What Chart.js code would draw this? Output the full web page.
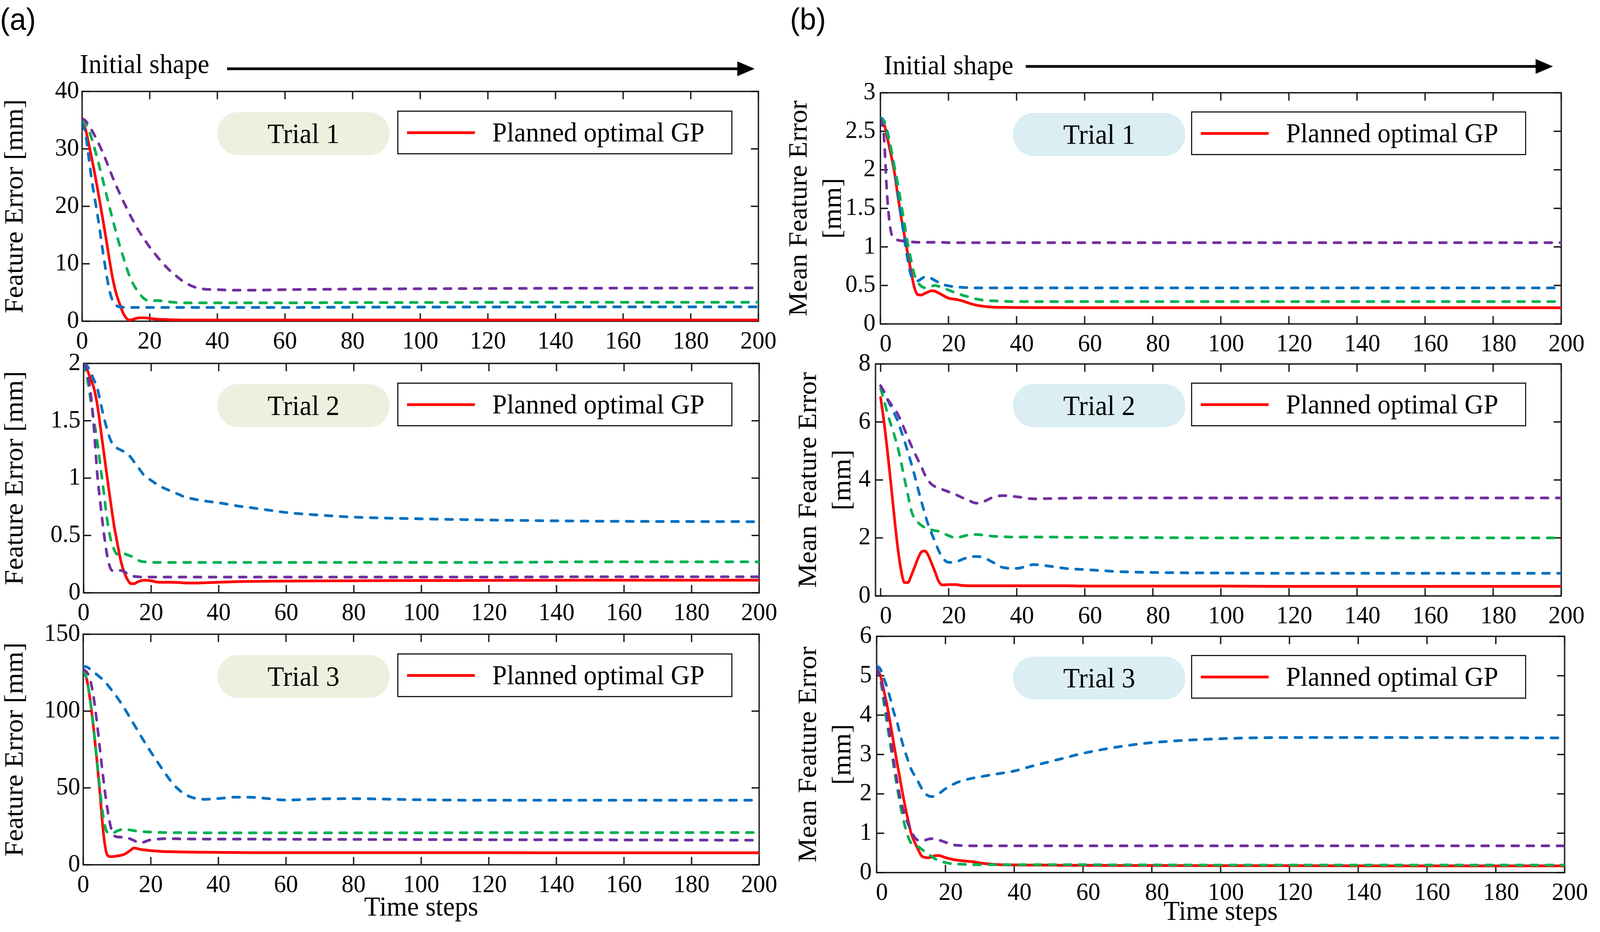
<!DOCTYPE html>
<html>
<head>
<meta charset="utf-8">
<title>Feature error per time step</title>
<script src="https://cdn.jsdelivr.net/npm/chart.js@4.4.0/dist/chart.umd.min.js"></script>
<style>
  html, body { margin: 0; padding: 0; background: #fff; overflow: hidden; }
  #page { position: relative; width: 4249px; height: 2385px; overflow: hidden; transform-origin: 0 0;
          font-family: 'Liberation Serif', 'Times New Roman', serif; color: #000; }
  .panel { position: absolute; }
  .panel canvas { display: block; }
  .pill { position: absolute; height: 110px; border-radius: 55px; display: flex;
          align-items: center; justify-content: center; font-size: 72px; }
  .legend { position: absolute; height: 112px; border: 3px solid #1a1a1a; background: #fff;
            box-sizing: border-box; display: flex; align-items: center; font-size: 70px; }
  .legend .swatch { width: 180px; height: 7px; background: #ff0000; margin-left: 23px; margin-right: 46px; }
  #overlay { position: absolute; left: 0; top: 0; }
</style>
</head>
<body>
<div id="page">
  <svg id="overlay" width="4249" height="2385">
    <text x="0" y="76" font-family="'Liberation Sans', Arial, sans-serif" font-size="78">(a)</text>
    <text x="2098" y="76" font-family="'Liberation Sans', Arial, sans-serif" font-size="78">(b)</text>
    <text x="212" y="187" font-family="'Liberation Serif', serif" font-size="70">Initial shape</text>
    <text x="2347" y="190" font-family="'Liberation Serif', serif" font-size="70">Initial shape</text>
    <line x1="603" y1="176" x2="1965" y2="176" stroke="#000" stroke-width="7"/>
    <polygon points="1958,157 2004,176 1958,195" fill="#000"/>
    <line x1="2724" y1="170" x2="4085" y2="170" stroke="#000" stroke-width="7"/>
    <polygon points="4078,151 4124,170 4078,189" fill="#000"/>
  </svg>
</div>
<script>
// time steps shared by every series
const STEPS = [0, 1, 2, 3, 4, 5, 6, 7, 8, 9, 10, 11, 12, 13, 14, 15, 16, 17, 18, 20,
               22, 24, 26, 28, 30, 33, 36, 40, 45, 50, 55, 60, 70, 80, 100, 120, 150, 200];

const X_TICKS = [0, 20, 40, 60, 80, 100, 120, 140, 160, 180, 200];
const Y_TICKS_A1 = [0, 10, 20, 30, 40];
const Y_TICKS_A2 = [0, 0.5, 1, 1.5, 2];
const Y_TICKS_A3 = [0, 50, 100, 150];
const Y_TICKS_B1 = [0, 0.5, 1, 1.5, 2, 2.5, 3];
const Y_TICKS_B2 = [0, 2, 4, 6, 8];
const Y_TICKS_B3 = [0, 1, 2, 3, 4, 5, 6];

const TRIALS = ['Trial 1', 'Trial 2', 'Trial 3'];
const LEGEND_LABEL = 'Planned optimal GP';

// (a) Feature Error [mm]
const a1Purple = [35.3, 34.9, 34.1, 33.1, 32.0, 30.8, 29.5, 28.1, 26.6, 25.1, 23.7, 22.4, 21.1, 19.9, 18.7, 17.6, 16.5, 15.5, 14.6, 12.9,
                  11.4, 10.0, 8.8, 7.8, 6.9, 6.0, 5.6, 5.5, 5.4, 5.4, 5.45, 5.5, 5.55, 5.6, 5.65, 5.7, 5.75, 5.8];
const a1Green = [35.0, 34.5, 33.2, 31.5, 29.4, 27.2, 24.9, 22.5, 20.1, 17.8, 15.6, 13.4, 11.5, 9.6, 7.9, 6.6, 5.6, 4.8, 4.1, 3.5,
                 3.6, 3.5, 3.35, 3.25, 3.2, 3.2, 3.2, 3.2, 3.2, 3.2, 3.2, 3.2, 3.22, 3.24, 3.26, 3.28, 3.3, 3.3];
const a1Blue = [34.5, 32.6, 28.3, 24.0, 20.5, 16.8, 12.7, 8.9, 5.6, 3.6, 2.8, 2.5, 2.45, 2.4, 2.4, 2.4, 2.4, 2.4, 2.4, 2.4,
                2.4, 2.4, 2.4, 2.4, 2.4, 2.4, 2.4, 2.4, 2.4, 2.4, 2.4, 2.4, 2.42, 2.44, 2.46, 2.48, 2.5, 2.5];
const a1Red = [34.5, 33.4, 30.8, 27.9, 24.9, 21.6, 18.2, 14.7, 11.0, 7.6, 5.0, 3.2, 1.6, 0.6, 0.2, 0.3, 0.5, 0.6, 0.6, 0.5,
               0.35, 0.3, 0.25, 0.22, 0.2, 0.2, 0.2, 0.2, 0.2, 0.2, 0.2, 0.2, 0.2, 0.2, 0.2, 0.2, 0.2, 0.2];

const a2Purple = [2.0, 1.93, 1.76, 1.46, 1.05, 0.77, 0.52, 0.32, 0.21, 0.19, 0.19, 0.195, 0.185, 0.165, 0.15, 0.143, 0.14, 0.138, 0.137, 0.137,
                  0.137, 0.137, 0.137, 0.137, 0.137, 0.137, 0.137, 0.137, 0.137, 0.137, 0.137, 0.137, 0.137, 0.137, 0.137, 0.137, 0.14, 0.14];
const a2Green = [2.0, 1.88, 1.70, 1.51, 1.33, 1.10, 0.87, 0.63, 0.47, 0.38, 0.335, 0.34, 0.34, 0.33, 0.32, 0.30, 0.285, 0.275, 0.27, 0.265,
                 0.265, 0.265, 0.265, 0.265, 0.265, 0.265, 0.265, 0.265, 0.265, 0.265, 0.265, 0.265, 0.265, 0.265, 0.265, 0.265, 0.27, 0.27];
const a2Blue = [2.0, 1.98, 1.93, 1.86, 1.79, 1.66, 1.53, 1.42, 1.33, 1.28, 1.26, 1.245, 1.23, 1.21, 1.18, 1.14, 1.10, 1.06, 1.02, 0.98,
                0.94, 0.91, 0.885, 0.86, 0.835, 0.815, 0.80, 0.785, 0.76, 0.74, 0.72, 0.70, 0.677, 0.66, 0.645, 0.635, 0.625, 0.62];
const a2Red = [2.0, 1.95, 1.87, 1.79, 1.65, 1.44, 1.22, 1.00, 0.79, 0.59, 0.43, 0.28, 0.18, 0.115, 0.08, 0.08, 0.095, 0.105, 0.11, 0.105,
               0.093, 0.092, 0.092, 0.09, 0.086, 0.085, 0.088, 0.092, 0.097, 0.1, 0.101, 0.102, 0.104, 0.105, 0.107, 0.108, 0.11, 0.11];

const a3Purple = [127, 125.5, 121, 110, 93.6, 74, 55, 38.5, 26, 19.5, 18.2, 18, 18, 17.6, 16.8, 15.8, 14.8, 14.1, 14.8, 16.3,
                  16.7, 17, 17, 16.9, 16.8, 16.8, 16.7, 16.7, 16.7, 16.7, 16.6, 16.6, 16.5, 16.5, 16.4, 16.3, 16.2, 16];
const a3Green = [126, 121, 108, 91, 69, 48, 30, 21.5, 20.3, 20.8, 22, 22.8, 23.2, 23, 22.6, 22.2, 21.9, 21.7, 21.5, 21.3,
                 21.1, 21, 20.95, 20.9, 20.9, 20.85, 20.8, 20.8, 20.8, 20.8, 20.8, 20.8, 20.8, 20.8, 20.8, 20.9, 20.9, 21];
const a3Blue = [129, 128.8, 127.3, 125.5, 123.8, 122, 120.2, 117.6, 114.8, 112, 109, 105.8, 102.4, 98.8, 95.1, 91.4, 87.7, 84, 80.4, 73.4,
                66.8, 60.3, 54.2, 49.4, 46, 43.3, 42.6, 43.1, 44, 43.9, 43, 42.1, 42.9, 43, 42.3, 42, 42, 42];
const a3Red = [126, 121, 108, 90, 69, 45, 20, 7, 5.3, 5.4, 5.7, 6.1, 6.7, 7.9, 9.5, 10.9, 10.5, 10.0, 9.7, 9.2,
               8.9, 8.6, 8.5, 8.4, 8.3, 8.2, 8.15, 8.1, 8, 7.9, 7.9, 7.9, 7.9, 7.9, 7.85, 7.85, 7.8, 7.8];

// (b) Mean Feature Error [mm]
const b1Purple = [2.66, 2.45, 1.65, 1.22, 1.11, 1.09, 1.08, 1.075, 1.07, 1.065, 1.062, 1.06, 1.06, 1.06, 1.06, 1.06, 1.06, 1.06, 1.06, 1.055,
                  1.055, 1.055, 1.055, 1.055, 1.055, 1.055, 1.055, 1.055, 1.055, 1.055, 1.055, 1.055, 1.055, 1.055, 1.055, 1.055, 1.055, 1.055];
const b1Green = [2.67, 2.63, 2.47, 2.3, 2.07, 1.84, 1.58, 1.32, 1.05, 0.83, 0.64, 0.54, 0.49, 0.47, 0.475, 0.49, 0.5, 0.49, 0.475, 0.44,
                 0.405, 0.375, 0.35, 0.325, 0.31, 0.3, 0.295, 0.29, 0.29, 0.29, 0.29, 0.29, 0.29, 0.29, 0.29, 0.29, 0.29, 0.29];
const b1Blue = [2.68, 2.64, 2.5, 2.3, 2.06, 1.75, 1.42, 1.12, 0.84, 0.63, 0.57, 0.56, 0.585, 0.61, 0.605, 0.59, 0.565, 0.54, 0.515, 0.495,
                0.48, 0.475, 0.47, 0.468, 0.468, 0.468, 0.468, 0.468, 0.468, 0.468, 0.468, 0.468, 0.468, 0.468, 0.468, 0.468, 0.468, 0.468];
const b1Red = [2.62, 2.6, 2.42, 2.22, 2.0, 1.7, 1.41, 1.16, 0.92, 0.68, 0.47, 0.38, 0.375, 0.395, 0.415, 0.43, 0.425, 0.405, 0.38, 0.335,
               0.32, 0.3, 0.27, 0.245, 0.23, 0.218, 0.215, 0.213, 0.212, 0.212, 0.211, 0.211, 0.21, 0.21, 0.21, 0.21, 0.21, 0.21];

const b2Purple = [7.25, 7.05, 6.8, 6.62, 6.46, 6.28, 6.03, 5.75, 5.46, 5.19, 4.93, 4.69, 4.45, 4.18, 3.98, 3.85, 3.77, 3.72, 3.68, 3.59,
                  3.5, 3.39, 3.29, 3.2, 3.24, 3.4, 3.46, 3.42, 3.35, 3.36, 3.37, 3.38, 3.38, 3.38, 3.38, 3.38, 3.38, 3.38];
const b2Green = [7.15, 6.75, 6.3, 5.92, 5.55, 5.14, 4.62, 4.05, 3.5, 2.95, 2.66, 2.53, 2.43, 2.36, 2.31, 2.28, 2.25, 2.23, 2.18, 2.08,
                 2.0, 2.05, 2.11, 2.12, 2.1, 2.06, 2.04, 2.03, 2.03, 2.03, 2.02, 2.02, 2.01, 2.01, 2.0, 2.0, 2.0, 2.0];
const b2Blue = [7.25, 7.0, 6.77, 6.54, 6.3, 6.04, 5.7, 5.35, 4.97, 4.57, 4.15, 3.69, 3.25, 2.84, 2.45, 2.15, 1.86, 1.58, 1.35, 1.16,
                1.17, 1.26, 1.34, 1.36, 1.33, 1.16, 0.98, 0.95, 1.08, 1.02, 0.94, 0.91, 0.84, 0.81, 0.79, 0.78, 0.78, 0.78];
const b2Red = [6.84, 6.0, 5.0, 3.9, 2.75, 1.7, 0.9, 0.46, 0.46, 0.7, 1.0, 1.3, 1.52, 1.55, 1.4, 1.12, 0.83, 0.52, 0.38, 0.39,
               0.39, 0.36, 0.35, 0.35, 0.35, 0.35, 0.35, 0.35, 0.35, 0.35, 0.35, 0.34, 0.34, 0.34, 0.34, 0.33, 0.33, 0.33];

const b3Purple = [5.2, 4.95, 4.55, 3.98, 3.4, 2.82, 2.3, 1.84, 1.5, 1.27, 1.07, 0.9, 0.82, 0.8, 0.82, 0.85, 0.86, 0.85, 0.83, 0.77,
                  0.71, 0.69, 0.685, 0.68, 0.68, 0.68, 0.68, 0.68, 0.68, 0.68, 0.68, 0.68, 0.68, 0.68, 0.68, 0.68, 0.68, 0.68];
const b3Green = [5.2, 4.97, 4.37, 3.8, 3.24, 2.68, 2.14, 1.66, 1.26, 0.95, 0.75, 0.68, 0.66, 0.6, 0.535, 0.47, 0.41, 0.35, 0.305, 0.255,
                 0.225, 0.215, 0.207, 0.202, 0.2, 0.2, 0.2, 0.2, 0.2, 0.2, 0.2, 0.2, 0.195, 0.195, 0.19, 0.19, 0.19, 0.19];
const b3Blue = [5.25, 5.18, 4.96, 4.71, 4.41, 4.07, 3.8, 3.45, 3.14, 2.88, 2.63, 2.47, 2.32, 2.15, 2.02, 1.95, 1.93, 1.95, 2.0, 2.13,
                2.23, 2.31, 2.36, 2.4, 2.43, 2.48, 2.52, 2.58, 2.7, 2.81, 2.92, 3.03, 3.19, 3.3, 3.4, 3.43, 3.43, 3.42];
const b3Red = [5.15, 5.03, 4.66, 4.26, 3.78, 3.26, 2.76, 2.28, 1.81, 1.39, 1.01, 0.78, 0.6, 0.43, 0.385, 0.375, 0.4, 0.43, 0.435, 0.38,
               0.335, 0.31, 0.29, 0.275, 0.245, 0.215, 0.2, 0.195, 0.19, 0.19, 0.185, 0.185, 0.18, 0.18, 0.175, 0.175, 0.17, 0.17];

// styles: purple, green, blue dashed, red solid (drawn last, on top)
const LINE_COLORS = ['#7030A0', '#00B050', '#0070C0', '#FF0000'];
const LINE_DASHES = [[18, 22], [18, 22], [18, 22], []];
const LINE_WIDTHS = [7, 7, 7, 7];

// plot boxes [left, top, right, bottom] in page pixels
const PANELS = [
  { side: 'a', trial: 0, yTicks: Y_TICKS_A1, series: [a1Purple, a1Green, a1Blue, a1Red], box: [218, 234, 2014, 822] },
  { side: 'a', trial: 1, yTicks: Y_TICKS_A2, series: [a2Purple, a2Green, a2Blue, a2Red], box: [222, 930, 2016, 1517] },
  { side: 'a', trial: 2, yTicks: Y_TICKS_A3, series: [a3Purple, a3Green, a3Blue, a3Red], box: [221, 1623, 2016, 2213], xTitle: true },
  { side: 'b', trial: 0, yTicks: Y_TICKS_B1, series: [b1Purple, b1Green, b1Blue, b1Red], box: [2338, 236, 4146, 829], titlePad: 3 },
  { side: 'b', trial: 1, yTicks: Y_TICKS_B2, series: [b2Purple, b2Green, b2Blue, b2Red], box: [2325, 930, 4146, 1525], xMin: -1.5, titlePad: 28 },
  { side: 'b', trial: 2, yTicks: Y_TICKS_B3, series: [b3Purple, b3Green, b3Blue, b3Red], box: [2328, 1627, 4155, 2233], xTitle: true, titlePad: 28 }
];

const SIDE = {
  a: { cLeft: 0, yTitle: 'Feature Error [mm]', titlePad: 0, titleLH: 1.2, pill: '#EBF1DE', pillX: 577, legendX: 1055,
       xTitlePad: 18, labelOffset: 0, yPad: 8 },
  b: { cLeft: 2075, yTitle: ['Mean Feature Error', '[mm]'], titlePad: 3, titleLH: 1.3, pill: '#DAEEF3', pillX: 2690, legendX: 3163,
       xTitlePad: 7, labelOffset: 14, yPad: 13 }
};

const TICK_LEN = 20;

Chart.defaults.font.family = "'Liberation Serif', 'Times New Roman', serif";
Chart.defaults.color = '#000';

// box frame with inward ticks on all four sides
const frameTicks = {
  id: 'frameTicks',
  beforeDatasetsDraw(chart) {
    const { ctx, chartArea: a, scales: { x, y } } = chart;
    ctx.save();
    ctx.strokeStyle = '#151515';
    ctx.lineWidth = 3.5;
    ctx.beginPath();
    x.ticks.forEach(t => {
      const px = x.getPixelForValue(t.value);
      ctx.moveTo(px, a.bottom); ctx.lineTo(px, a.bottom - TICK_LEN);
      ctx.moveTo(px, a.top); ctx.lineTo(px, a.top + TICK_LEN);
    });
    y.ticks.forEach(t => {
      const py = y.getPixelForValue(t.value);
      ctx.moveTo(a.left, py); ctx.lineTo(a.left + TICK_LEN, py);
      ctx.moveTo(a.right, py); ctx.lineTo(a.right - TICK_LEN, py);
    });
    ctx.stroke();
    ctx.strokeRect(a.left, a.top, a.right - a.left, a.bottom - a.top);
    ctx.restore();
  }
};

const page = document.getElementById('page');

PANELS.forEach(p => {
  const s = SIDE[p.side];
  const [L, T, R, B] = p.box;
  const padTop = 50, padRight = 95;
  const xAxisH = p.xTitle ? 2385 - B : 110;
  const cTop = T - padTop;
  const w = R + padRight - s.cLeft;
  const h = B + xAxisH - cTop;

  const wrap = document.createElement('div');
  wrap.className = 'panel';
  wrap.style.left = s.cLeft + 'px';
  wrap.style.top = cTop + 'px';
  wrap.style.width = w + 'px';
  wrap.style.height = h + 'px';
  const canvas = document.createElement('canvas');
  canvas.width = w;
  canvas.height = h;
  wrap.appendChild(canvas);
  page.appendChild(wrap);

  new Chart(canvas.getContext('2d'), {
    type: 'line',
    data: {
      datasets: p.series.map((vals, i) => ({
        label: i === 3 ? LEGEND_LABEL : '',
        data: STEPS.map((st, j) => ({ x: st, y: vals[j] })),
        borderColor: LINE_COLORS[i],
        borderDash: LINE_DASHES[i],
        borderWidth: LINE_WIDTHS[i],
        borderCapStyle: 'round',
        borderJoinStyle: 'round',
        pointRadius: 0,
        fill: false,
        cubicInterpolationMode: 'monotone'
      }))
    },
    options: {
      responsive: false,
      animation: false,
      devicePixelRatio: 1,
      layout: { padding: { top: padTop, right: padRight, left: 0, bottom: 0 } },
      plugins: { legend: { display: false }, tooltip: { enabled: false } },
      scales: {
        x: {
          type: 'linear',
          min: p.xMin !== undefined ? p.xMin : 0,
          max: 200,
          afterBuildTicks: sc => { sc.ticks = X_TICKS.map(v => ({ value: v })); },
          afterFit: sc => { sc.height = xAxisH; },
          grid: { display: false, drawTicks: false },
          border: { display: false },
          ticks: { autoSkip: false, maxRotation: 0, padding: 15, labelOffset: s.labelOffset,
                   font: { size: 64 }, color: '#000', callback: v => String(v) },
          title: {
            display: !!p.xTitle,
            text: 'Time steps',
            color: '#000',
            font: { size: 70 },
            padding: { top: 0, bottom: s.xTitlePad }
          }
        },
        y: {
          min: 0,
          max: p.yTicks[p.yTicks.length - 1],
          afterBuildTicks: sc => { sc.ticks = p.yTicks.map(v => ({ value: v })); },
          afterFit: sc => { sc.width = L - s.cLeft; },
          grid: { display: false, drawTicks: false },
          border: { display: false },
          ticks: { padding: s.yPad, font: { size: 64 }, color: '#000', callback: v => String(v) },
          title: {
            display: true,
            text: s.yTitle,
            color: '#000',
            font: { size: 70, lineHeight: s.titleLH },
            padding: { top: p.titlePad !== undefined ? p.titlePad : s.titlePad, bottom: 0 }
          }
        }
      }
    },
    plugins: [frameTicks]
  });

  // trial tag
  const pill = document.createElement('div');
  pill.className = 'pill';
  pill.style.left = s.pillX + 'px';
  pill.style.top = (T + 53) + 'px';
  pill.style.width = '458px';
  pill.style.background = s.pill;
  pill.textContent = TRIALS[p.trial];
  page.appendChild(pill);

  // legend for the planned trajectory
  const leg = document.createElement('div');
  leg.className = 'legend';
  leg.style.left = s.legendX + 'px';
  leg.style.top = (T + 49) + 'px';
  leg.style.width = '890px';
  const sw = document.createElement('span');
  sw.className = 'swatch';
  const lab = document.createElement('span');
  lab.textContent = LEGEND_LABEL;
  leg.appendChild(sw);
  leg.appendChild(lab);
  page.appendChild(leg);
});

// the browser window may be narrower than 4249 px: stretch the layout to fill it
function fitPage() {
  const sx = window.innerWidth / 4249;
  const sy = window.innerHeight / 2385;
  page.style.transform = 'scale(' + sx + ',' + sy + ')';
}
fitPage();
window.addEventListener('resize', fitPage);
</script>
</body>
</html>
